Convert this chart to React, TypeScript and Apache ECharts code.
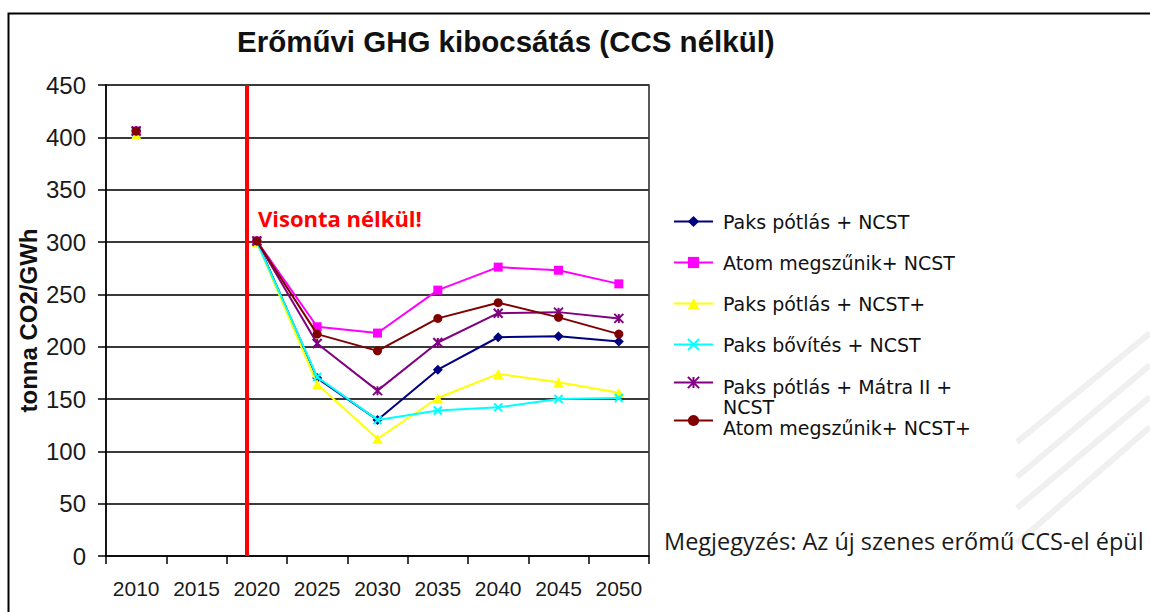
import React, { useEffect, useRef } from "react";
import * as echarts from "echarts";

// ---- data ----
const categoryLabels = ["2010", "2015", "2020", "2025", "2030", "2035", "2040", "2045", "2050"];
const years = [2010, 2015, 2020, 2025, 2030, 2035, 2040, 2045, 2050];

const paksNCST = [406, null, 301, 170, 130, 178, 209, 210, 205];
const atomNCST = [406, null, 301, 219, 213, 254, 276, 273, 260];
const paksNCSTPlus = [403, null, 300, 164, 112, 151, 174, 166, 156];
const paksBovites = [405, null, 300, 171, 130, 139, 142, 150, 151];
const paksMatra = [406, null, 301, 203, 158, 204, 232, 233, 227];
const atomNCSTPlus = [406, null, 301, 212, 196, 227, 242, 228, 212];

const seriesNames = [
  "Paks pótlás + NCST",
  "Atom megszűnik+ NCST",
  "Paks pótlás + NCST+",
  "Paks bővítés + NCST",
  "Paks pótlás + Mátra II + NCST",
  "Atom megszűnik+ NCST+",
];
const seriesValues = [paksNCST, atomNCST, paksNCSTPlus, paksBovites, paksMatra, atomNCSTPlus];
const seriesColors = ["#000080", "#ff00ff", "#ffff00", "#00ffff", "#800080", "#800000"];
const seriesSymbols = [
  "diamond",
  "rect",
  "triangle",
  "path://M0,0L10,10M10,0L0,10",
  "path://M0,0L10,10M10,0L0,10M5,0L5,10",
  "circle",
];
const seriesSymbolSizes = [10, 9, 10, 8, 9, 9];

const yMin = 0;
const yMax = 450;
const yInterval = 50;
const redLineYear = 2019.2;

const titleText = "Erőművi GHG kibocsátás (CCS nélkül)";
const yAxisName = "tonna CO2/GWh";
const annotationText = "Visonta nélkül!";
const noteText = "Megjegyzés: Az új szenes erőmű CCS-el épül";

export default function App() {
  const ref = useRef<HTMLDivElement>(null);

  useEffect(() => {
    if (!ref.current) return;
    const chart = echarts.init(ref.current, undefined, { renderer: "svg" });

    const series: any[] = seriesNames.map((name, i) => {
      const isStroke = seriesSymbols[i].startsWith("path://");
      const s: any = {
        name,
        type: "line",
        xAxisIndex: 1,
        data: years.map((y, j) => [y, seriesValues[i][j] == null ? "-" : seriesValues[i][j]]),
        symbol: seriesSymbols[i],
        symbolSize: seriesSymbolSizes[i],
        showAllSymbol: true,
        connectNulls: false,
        color: seriesColors[i],
        lineStyle: { color: seriesColors[i], width: 2 },
        itemStyle: isStroke
          ? { color: seriesColors[i], borderColor: seriesColors[i], borderWidth: 2 }
          : { color: seriesColors[i] },
        z: 3 + i,
      };
      if (i === 0) {
        s.markLine = {
          silent: true,
          symbol: "none",
          label: { show: false },
          lineStyle: { color: "#ff0000", width: 4, type: "solid" },
          data: [{ xAxis: redLineYear }],
        };
      }
      return s;
    });

    const font = { fontFamily: "DejaVu Sans", fontSize: 19, color: "#111111" };
    const legendBase = {
      orient: "vertical",
      left: 673,
      padding: 0,
      itemWidth: 39,
      itemHeight: 14,
      textStyle: { ...font, lineHeight: 18 },
    };

    chart.setOption({
      animation: false,
      backgroundColor: "#ffffff",
      title: {
        text: titleText,
        left: 237,
        top: 26,
        padding: 0,
        textStyle: {
          fontFamily: "Liberation Sans, Arial, sans-serif",
          fontWeight: "bold",
          fontSize: 29.5,
          color: "#111111",
        },
      },
      grid: {
        left: 106,
        right: 501,
        top: 85,
        bottom: 56,
        show: true,
        borderColor: "#222222",
        borderWidth: 1.5,
        backgroundColor: "transparent",
      },
      legend: [
        {
          ...legendBase,
          data: seriesNames.slice(0, 4),
          top: 212,
          itemGap: 22,
          formatter: (name: string) => `{t|${name}}`,
          textStyle: {
            ...font,
            lineHeight: 18,
            rich: { t: { ...font, lineHeight: 18, padding: [0, 0, 0, 5] } },
          },
        },
        {
          ...legendBase,
          data: [seriesNames[4]],
          top: 349,
          formatter: () => "{a|Paks pótlás + Mátra II +}\n{a|NCST}",
          textStyle: {
            ...font,
            lineHeight: 20,
            rich: {
              a: { ...font, lineHeight: 20, padding: [28, 0, 0, 5] },
            },
          },
        },
        {
          ...legendBase,
          data: [seriesNames[5]],
          top: 404,
          formatter: (name: string) => `{t|${name}}`,
          textStyle: {
            ...font,
            lineHeight: 18,
            rich: { t: { ...font, lineHeight: 18, padding: [14, 0, 0, 5] } },
          },
        },
      ],
      xAxis: [
        {
          type: "category",
          data: categoryLabels,
          boundaryGap: true,
          position: "bottom",
          axisLine: { show: true, lineStyle: { color: "#000000", width: 1.5 } },
          axisTick: { show: true, alignWithLabel: false, interval: 0, length: 8, lineStyle: { color: "#000000", width: 1.5 } },
          axisLabel: {
            interval: 0,
            margin: 22,
            fontFamily: "Liberation Sans, Arial, sans-serif",
            fontSize: 21,
            color: "#1a1a1a",
          },
          splitLine: { show: false },
        },
        {
          type: "value",
          min: 2007.5,
          max: 2052.5,
          show: false,
          splitLine: { show: false },
        },
      ],
      yAxis: {
        type: "value",
        min: yMin,
        max: yMax,
        interval: yInterval,
        name: yAxisName,
        nameLocation: "middle",
        nameGap: 66,
        nameTextStyle: {
          fontFamily: "Liberation Sans, Arial, sans-serif",
          fontWeight: "bold",
          fontSize: 24,
          color: "#111111",
        },
        axisLine: { show: true, lineStyle: { color: "#000000", width: 1.5 } },
        axisTick: { show: true, length: 8, lineStyle: { color: "#000000", width: 1.5 } },
        axisLabel: {
          margin: 20,
          fontFamily: "Liberation Sans, Arial, sans-serif",
          fontSize: 24,
          color: "#1a1a1a",
        },
        splitLine: { show: true, lineStyle: { color: "#3a3a3a", width: 2 } },
      },
      graphic: [
        {
          type: "rect",
          shape: { x: 8.5, y: 13.5, width: 1300, height: 800 },
          style: { fill: "none", stroke: "#000000", lineWidth: 2 },
          silent: true,
          z: -10,
        },
        {
          type: "group",
          silent: true,
          z: -5,
          children: [
            { type: "line", shape: { x1: 1017, y1: 442, x2: 1150, y2: 333 }, style: { stroke: "#f0f0f0", lineWidth: 6 } },
            { type: "line", shape: { x1: 1017, y1: 477, x2: 1150, y2: 365 }, style: { stroke: "#f0f0f0", lineWidth: 6 } },
            { type: "line", shape: { x1: 1017, y1: 508, x2: 1150, y2: 397 }, style: { stroke: "#f0f0f0", lineWidth: 6 } },
            { type: "line", shape: { x1: 1017, y1: 543, x2: 1150, y2: 427 }, style: { stroke: "#f0f0f0", lineWidth: 6 } },
          ],
        },
        {
          type: "text",
          x: 258,
          y: 218,
          style: {
            text: annotationText,
            fill: "#ff0000",
            font: "bold 22px 'Open Sans', sans-serif",
            verticalAlign: "middle",
            align: "left",
          },
          z: 10,
        },
        {
          type: "text",
          x: 664,
          y: 541,
          style: {
            text: noteText,
            fill: "#1a1a1a",
            font: "23.5px 'Open Sans', sans-serif",
            verticalAlign: "middle",
            align: "left",
          },
          z: 10,
        },
      ],
      series,
    });

    return () => chart.dispose();
  }, []);

  return (
    <div
      ref={ref}
      style={{ position: "fixed", left: 0, top: 0, width: 1150, height: 612, background: "#ffffff" }}
    />
  );
}
